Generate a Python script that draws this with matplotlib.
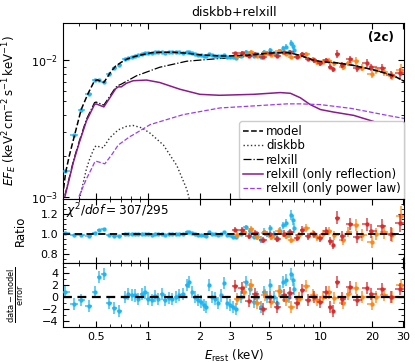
import numpy as np
import matplotlib
matplotlib.use("Agg")
import matplotlib.pyplot as plt
from matplotlib.ticker import FixedLocator, FixedFormatter, NullFormatter, LogLocator, MultipleLocator

# ---------------- model components (keV, keV^2 cm^-2 s^-1 keV^-1) ----------------
model_E = [0.32, 0.333, 0.35, 0.376, 0.41, 0.45, 0.49, 0.51, 0.53, 0.555, 0.58, 0.61, 0.65, 0.7,
           0.75, 0.8, 0.86, 0.95, 1.05, 1.2, 1.4, 1.7, 2.0, 2.3, 2.6, 3.0, 3.5, 4.0, 4.5, 5.0, 5.5,
           6.0, 6.5, 7.0, 7.6, 8.4, 9.2, 10, 11, 12.5, 14, 15.5, 17.5, 19.5, 22, 24.8, 27.5, 30.5]
model_tot = [1.0e-3, 1.5e-3, 2.0e-3, 2.85e-3, 4.36e-3, 5.74e-3, 7.1e-3, 7.2e-3, 7.05e-3, 6.9e-3,
             7.5e-3, 8.3e-3, 9.1e-3, 9.7e-3, 1.02e-2, 1.05e-2, 1.08e-2, 1.11e-2, 1.14e-2, 1.15e-2,
             1.15e-2, 1.13e-2, 1.1e-2, 1.09e-2, 1.08e-2, 1.08e-2, 1.09e-2, 1.1e-2, 1.12e-2, 1.13e-2,
             1.14e-2, 1.14e-2, 1.14e-2, 1.12e-2, 1.09e-2, 1.045e-2, 1.0e-2, 9.85e-3, 9.7e-3, 9.6e-3,
             9.4e-3, 9.2e-3, 8.9e-3, 8.65e-3, 8.3e-3, 7.95e-3, 7.55e-3, 7.05e-3]

refl_E = [0.33, 0.37, 0.40, 0.44, 0.49, 0.50, 0.555, 0.6, 0.65, 0.672, 0.7, 0.75, 0.82, 0.98, 1.17,
          1.53, 2.0, 2.6, 4.1, 5.85, 6.7, 7.65, 8.7, 10, 11.9, 15.6, 20.4, 25, 30.5]
refl = [1.0e-3, 1.8e-3, 2.5e-3, 3.6e-3, 4.75e-3, 4.8e-3, 4.56e-3, 5.3e-3, 6.2e-3, 6.4e-3, 6.4e-3,
        6.8e-3, 7.1e-3, 7.18e-3, 6.89e-3, 6.15e-3, 5.64e-3, 5.55e-3, 5.64e-3, 5.81e-3, 5.74e-3,
        5.32e-3, 4.75e-3, 4.36e-3, 4.18e-3, 3.95e-3, 3.56e-3, 3.1e-3, 2.7e-3]

relx_E = [0.33, 0.37, 0.40, 0.44, 0.49, 0.50, 0.555, 0.6, 0.65, 0.672, 0.7, 0.86, 1.17, 1.68, 2.5,
          3.13, 4.0, 4.9, 5.5, 6.0, 6.5, 7.0, 7.6, 8.4, 9.2, 10, 11, 12.5, 14, 15.5, 17.5, 19.5,
          22, 24.8, 27.5, 30.5]
relx = [1.02e-3, 1.84e-3, 2.56e-3, 3.7e-3, 4.9e-3, 4.95e-3, 4.7e-3, 5.45e-3, 6.35e-3, 6.55e-3,
        6.7e-3, 7.73e-3, 8.92e-3, 9.88e-3, 1.03e-2, 1.05e-2, 1.08e-2, 1.11e-2, 1.13e-2, 1.135e-2,
        1.138e-2, 1.118e-2, 1.088e-2, 1.043e-2, 9.98e-3, 9.84e-3, 9.69e-3, 9.59e-3, 9.4e-3, 9.2e-3,
        8.9e-3, 8.65e-3, 8.3e-3, 7.95e-3, 7.55e-3, 7.05e-3]

pl_E = [0.398, 0.44, 0.466, 0.49, 0.50, 0.562, 0.62, 0.672, 0.786, 0.82, 1.03, 1.6, 2.62, 3.13,
        6.4, 7.65, 10, 15, 20, 24.4, 30.5]
pl = [1.0e-3, 1.35e-3, 1.56e-3, 1.78e-3, 1.82e-3, 1.74e-3, 2.05e-3, 2.39e-3, 2.76e-3, 2.84e-3,
      3.38e-3, 4.0e-3, 4.48e-3, 4.54e-3, 4.8e-3, 4.8e-3, 4.74e-3, 4.45e-3, 4.15e-3, 3.95e-3, 3.75e-3]

dbb_E = [0.40, 0.44, 0.46, 0.49, 0.50, 0.55, 0.6, 0.672, 0.75, 0.82, 0.92, 1.03, 1.23, 1.47,
         1.68, 1.76]
dbb = [9.5e-4, 1.6e-3, 1.9e-3, 2.3e-3, 2.36e-3, 2.28e-3, 2.7e-3, 3.09e-3, 3.28e-3, 3.33e-3,
       3.2e-3, 2.92e-3, 2.39e-3, 1.69e-3, 1.13e-3, 9.0e-4]

# ---------------- XMM-Newton (cyan) ----------------
xmm_E = [0.33, 0.375, 0.41, 0.455, 0.49, 0.52, 0.555, 0.595, 0.635, 0.68, 0.735, 0.77, 0.805,
         0.84, 0.88, 0.92, 0.96, 1.0, 1.05, 1.1, 1.15, 1.2, 1.26, 1.32, 1.38, 1.45, 1.52, 1.6,
         1.68, 1.74, 1.8, 1.87, 1.94, 2.02, 2.1, 2.18, 2.27, 2.36, 2.46, 2.56, 2.66, 2.77, 2.88,
         3.0, 3.1, 3.25, 3.45, 3.7, 3.9, 4.1, 4.3, 4.5, 4.7, 4.9, 5.1, 5.35, 5.6, 5.85, 6.1, 6.35,
         6.6, 6.75, 6.9, 7.05]
xmm_flux = [1.55e-3, 2.82e-3, 4.33e-3, 5.65e-3, 7.16e-3, 7.15e-3, 7.0e-3, 7.9e-3, 8.75e-3, 9.3e-3,
            1.02e-2, 1.045e-2, 1.063e-2, 1.082e-2, 1.092e-2, 1.114e-2, 1.126e-2, 1.128e-2,
            1.134e-2, 1.146e-2, 1.147e-2, 1.155e-2, 1.144e-2, 1.148e-2, 1.147e-2, 1.147e-2,
            1.147e-2, 1.143e-2, 1.148e-2, 1.146e-2, 1.127e-2, 1.115e-2, 1.104e-2, 1.092e-2,
            1.085e-2, 1.08e-2, 1.113e-2, 1.092e-2, 1.087e-2, 1.075e-2, 1.084e-2, 1.102e-2,
            1.069e-2, 1.065e-2, 1.053e-2, 1.051e-2, 1.087e-2, 1.164e-2, 1.136e-2, 1.077e-2,
            1.11e-2, 1.058e-2, 1.153e-2, 1.13e-2, 1.203e-2, 1.14e-2, 1.10e-2, 1.18e-2, 1.237e-2,
            1.265e-2, 1.14e-2, 1.35e-2, 1.283e-2, 1.187e-2]
xmm_ratio = [1.010, 0.988, 0.995, 0.985, 1.008, 1.038, 1.046, 0.990, 0.981, 0.977, 1.000, 1.004,
             1.003, 1.002, 0.997, 1.004, 1.005, 0.998, 0.995, 1.001, 0.997, 1.004, 0.995, 0.998,
             0.997, 0.999, 1.002, 1.003, 1.016, 1.019, 1.006, 1.000, 0.995, 0.993, 0.988, 0.985,
             1.017, 1.000, 0.997, 0.991, 1.002, 1.020, 0.990, 0.986, 0.975, 0.970, 1.000, 1.065,
             1.035, 0.975, 1.000, 0.945, 1.025, 1.000, 1.060, 1.000, 0.965, 1.035, 1.085, 1.110,
             1.000, 1.190, 1.135, 1.060]
xmm_rerr = [0.012, 0.010, 0.010, 0.010, 0.010, 0.012, 0.012, 0.010, 0.010, 0.010, 0.008, 0.008,
            0.008, 0.008, 0.008, 0.008, 0.008, 0.008, 0.008, 0.008, 0.008, 0.008, 0.008, 0.008,
            0.008, 0.008, 0.008, 0.008, 0.008, 0.008, 0.008, 0.008, 0.008, 0.009, 0.009, 0.009,
            0.009, 0.009, 0.009, 0.009, 0.009, 0.009, 0.010, 0.010, 0.015, 0.015, 0.020, 0.027,
            0.027, 0.028, 0.030, 0.032, 0.032, 0.032, 0.032, 0.035, 0.035, 0.035, 0.035, 0.040,
            0.040, 0.050, 0.050, 0.050]
xmm_resid = [0.8, -1.2, -0.5, -1.5, 0.8, 3.2, 3.8, -1.0, -1.9, -2.3, 0.0, 0.5, 0.3, 0.2, -0.4,
             0.5, 0.7, -0.3, -0.6, 0.1, -0.4, 0.5, -0.6, -0.2, -0.4, -0.1, 0.3, 0.4, 2.0, 2.4,
             0.8, 0.0, -0.6, -0.8, -1.3, -1.7, 1.9, 0.0, -0.3, -1.0, 0.2, 2.2, -1.0, -1.4, -1.7,
             -2.0, 0.0, 2.4, 1.3, -0.9, 0.0, -1.7, 0.8, 0.0, 1.9, 0.0, -1.0, 1.0, 2.4, 2.7, 0.0,
             3.8, 2.7, 1.2]

# ---------------- NuSTAR FPMA (red) ----------------
fpma_E = [3.2, 3.5, 3.85, 4.2, 4.65, 5.1, 5.6, 6.15, 6.7, 7.3, 7.85, 8.5, 9.2, 9.9, 10.7, 11.4,
          11.9, 12.5, 13.4, 14.8, 16.3, 18.6, 19.6, 22.8, 25.5, 29.0]
fpma_flux = [1.133e-2, 1.134e-2, 1.075e-2, 1.119e-2, 1.056e-2, 1.132e-2, 1.083e-2, 1.146e-2,
             1.155e-2, 1.066e-2, 1.121e-2, 1.019e-2, 1.0e-2, 9.52e-3, 1.004e-2, 8.99e-3, 8.63e-3,
             1.114e-2, 9.33e-3, 1.022e-2, 8.81e-3, 9.59e-3, 8.9e-3, 8.86e-3, 7.85e-3, 8.1e-3]
fpma_ratio = [1.045, 1.04, 0.98, 1.01, 0.94, 1.0, 0.95, 1.005, 1.02, 0.965, 1.04, 0.98, 1.0, 0.965,
              1.03, 0.93, 0.895, 1.16, 0.985, 1.1, 0.97, 1.095, 1.03, 1.08, 1.0, 1.11]
fpma_rerr = [0.027, 0.027, 0.027, 0.028, 0.03, 0.03, 0.03, 0.032, 0.032, 0.032, 0.035, 0.035,
             0.035, 0.04, 0.04, 0.042, 0.045, 0.065, 0.05, 0.06, 0.06, 0.065, 0.065, 0.065, 0.07, 0.09]
fpma_resid = [1.7, 1.5, -0.7, 0.4, -2.0, 0.0, -1.7, 0.2, 0.6, -1.1, 1.1, -0.6, 0.0, -0.9, 0.7,
              -1.7, -2.3, 2.4, -0.3, 1.6, -0.5, 1.4, 0.4, 1.2, 0.0, 1.2]

# ---------------- NuSTAR FPMB (orange) ----------------
fpmb_E = [3.3, 3.6, 3.95, 4.3, 4.75, 5.2, 5.75, 6.3, 6.75, 7.5, 8.3, 9.0, 9.6, 10.4, 11.2, 12.0,
          13.6, 14.5, 16.0, 17.5, 19.9, 21.0, 23.5, 26.0, 29.3]
fpmb_flux = [1.075e-2, 1.114e-2, 1.154e-2, 1.079e-2, 1.136e-2, 1.106e-2, 1.174e-2, 1.123e-2,
             1.068e-2, 1.084e-2, 1.113e-2, 1.02e-2, 9.68e-3, 9.8e-3, 9.97e-3, 9.53e-3, 8.93e-3,
             9.52e-3, 9.94e-3, 8.86e-3, 7.96e-3, 8.45e-3, 8.26e-3, 7.69e-3, 8.52e-3]
fpmb_ratio = [0.99, 1.02, 1.05, 0.97, 1.01, 0.975, 1.03, 0.985, 0.945, 0.99, 1.06, 1.01, 0.975,
              1.0, 1.03, 0.99, 0.945, 1.02, 1.09, 0.995, 0.925, 1.0, 1.02, 0.99, 1.18]
fpmb_rerr = [0.027, 0.027, 0.027, 0.028, 0.03, 0.03, 0.03, 0.032, 0.032, 0.032, 0.035, 0.035,
             0.04, 0.04, 0.04, 0.045, 0.05, 0.05, 0.06, 0.06, 0.06, 0.06, 0.065, 0.07, 0.1]
fpmb_resid = [-0.4, 0.7, 1.9, -1.0, 0.3, -0.8, 1.0, -0.5, -1.7, -0.3, 1.7, 0.3, -0.6, 0.0, 0.7,
              -0.2, -1.1, 0.4, 1.5, -0.1, -1.2, 0.0, 0.3, -0.1, 2.0]

xtick_vals = [0.5, 1, 2, 3, 5, 10, 20, 30]
xtick_labels = ["0.5", "1", "2", "3", "5", "10", "20", "30"]

C_XMM = "#1cb5f0"
C_A = "#d62a2a"
C_B = "#ff8410"

plt.rcParams["font.family"] = "DejaVu Sans"
plt.rcParams["font.size"] = 8
plt.rcParams["mathtext.fontset"] = "dejavusans"

fig = plt.figure(figsize=(4.15, 3.63), dpi=100)
gs = fig.add_gridspec(3, 1, height_ratios=[176, 64, 64], hspace=0,
                      left=0.152, right=0.974, top=0.937, bottom=0.099)
ax0 = fig.add_subplot(gs[0])
ax1 = fig.add_subplot(gs[1], sharex=ax0)
ax2 = fig.add_subplot(gs[2], sharex=ax0)


def xerr_from(E):
    E = np.asarray(E, float)
    lg = np.log10(E)
    mids = (lg[1:] + lg[:-1]) / 2
    lo = np.concatenate([[lg[0] - (mids[0] - lg[0])], mids])
    hi = np.concatenate([mids, [lg[-1] + (lg[-1] - mids[-1])]])
    return np.vstack([E - 10 ** lo, 10 ** hi - E])


def draw(ax, E, y, yerr, col, z):
    ax.errorbar(E, y, xerr=xerr_from(E), yerr=yerr, fmt="o", ms=2.2, color=col,
                ecolor=col, elinewidth=1.1, capsize=0, alpha=0.85, zorder=z)


sets = [(xmm_E, xmm_flux, xmm_ratio, xmm_rerr, xmm_resid, C_XMM, 3),
        (fpmb_E, fpmb_flux, fpmb_ratio, fpmb_rerr, fpmb_resid, C_B, 4),
        (fpma_E, fpma_flux, fpma_ratio, fpma_rerr, fpma_resid, C_A, 5)]
for E, fl, ra, re, rs, col, z in sets:
    fl = np.asarray(fl)
    re = np.asarray(re)
    draw(ax0, E, fl, fl * re, col, z)
    draw(ax1, E, ra, re, col, z)
    draw(ax2, E, rs, np.ones(len(rs)), col, z)

ax0.plot(model_E, model_tot, "k--", lw=1.1, zorder=6, label="model")
ax0.plot(dbb_E, dbb, ":", color="#333333", lw=1.0, zorder=2, label="diskbb")
ax0.plot(relx_E, relx, "-.", color="k", lw=0.9, zorder=2, label="relxill")
ax0.plot(refl_E, refl, "-", color="#8b1a8b", lw=1.1, zorder=2, label="relxill (only reflection)")
ax0.plot(pl_E, pl, "--", color="#9a3df0", lw=0.9, zorder=2, label="relxill (only power law)")

ax0.set_xscale("log")
ax0.set_yscale("log")
ax0.set_xlim(0.322, 30.6)
ax0.set_ylim(9.6e-4, 1.89e-2)
ax0.yaxis.set_minor_formatter(NullFormatter())
ax0.set_ylabel(r"$EF_E$ (keV$^2\,$cm$^{-2}\,$s$^{-1}\,$keV$^{-1}$)", fontsize=8.5)
ax0.set_title("diskbb+relxill", fontsize=9, pad=5)
ax0.text(0.97, 0.955, "(2c)", transform=ax0.transAxes, ha="right", va="top",
         fontsize=8.5, fontweight="bold")
leg = ax0.legend(loc="lower right", fontsize=8.5, handlelength=1.7, handletextpad=0.25,
                 labelspacing=0.12, borderpad=0.3, borderaxespad=0.0, framealpha=1,
                 edgecolor="#cccccc")
leg.set_zorder(10)

ax1.axhline(1.0, color="k", ls=(0, (4, 2.5)), lw=1.3, zorder=7)
ax1.set_ylim(0.71, 1.35)
ax1.yaxis.set_major_locator(FixedLocator([0.8, 1.0, 1.2]))
ax1.yaxis.set_minor_locator(MultipleLocator(0.05))
ax1.set_ylabel("Ratio", fontsize=8.5)
ax1.text(0.01, 0.97, r"$\chi^2/dof = 307/295$", transform=ax1.transAxes, ha="left", va="top",
         fontsize=8.7)

ax2.axhline(0.0, color="k", ls=(0, (4, 2.5)), lw=1.6, zorder=7)
ax2.set_ylim(-5.05, 5.6)
ax2.yaxis.set_major_locator(FixedLocator([-4, -2, 0, 2, 4]))
ax2.yaxis.set_minor_locator(MultipleLocator(1))
ax2.set_ylabel(r"$\frac{\rm data-model}{\rm error}$", fontsize=8.5)
ax2.set_xlabel(r"$E_{\rm rest}$ (keV)", fontsize=8.5)

ax2.xaxis.set_major_locator(FixedLocator(xtick_vals))
ax2.xaxis.set_major_formatter(FixedFormatter(xtick_labels))
ax2.xaxis.set_minor_locator(LogLocator(base=10, subs=np.arange(1, 10) * 1.0, numticks=20))
ax2.xaxis.set_minor_formatter(NullFormatter())

for ax in (ax0, ax1, ax2):
    ax.tick_params(which="both", direction="in", top=True, right=True, labelsize=8)
    ax.tick_params(which="major", length=4)
    ax.tick_params(which="minor", length=2)
for ax in (ax0, ax1):
    ax.tick_params(labelbottom=False)
ax0.yaxis.set_label_coords(-0.13, 0.5)
ax1.yaxis.set_label_coords(-0.105, 0.5)
ax2.yaxis.set_label_coords(-0.11, 0.5)

fig.savefig("out.png", dpi=100)
